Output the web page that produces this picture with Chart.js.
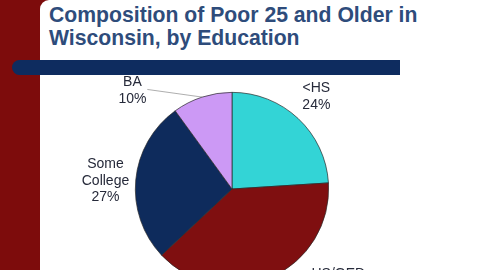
<!DOCTYPE html>
<html><head><meta charset="utf-8">
<script src="https://cdn.jsdelivr.net/npm/chart.js@4"></script>
<style>
html,body{margin:0;padding:0;width:480px;height:270px;overflow:hidden;background:#7d0c0c;}
#panel{position:absolute;left:40px;top:0;width:440px;height:270px;background:#fff;border-top-left-radius:9px;}
#bar{position:absolute;left:12px;top:60px;width:388px;height:15px;background:#0e2c5f;border-top-left-radius:8px;border-bottom-left-radius:8px;}
#title{position:absolute;left:49px;top:3px;font-family:"Liberation Sans",Arial,sans-serif;font-weight:bold;font-size:21.2px;line-height:23px;color:#2e4c7b;white-space:nowrap;}
#c{position:absolute;left:0;top:0;}
</style></head>
<body>
<div id="panel"></div>
<div id="bar"></div>
<div id="title">Composition of Poor 25 and Older in<br>Wisconsin, by Education</div>
<canvas id="c" width="480" height="290"></canvas>
<script>
const categories = ["<HS", "HS/GED", "Some College", "BA"];
const labelLines = [["<HS"], ["HS/GED"], ["Some", "College"], ["BA"]];
const shares = [24, 39, 27, 10];
const colors = ["#33d4d6", "#7f0f10", "#0e2b5c", "#cc99f5"];

// label anchor offsets in units of pie radius (layout, not data)
const labelOffsets = [[0.873, -0.954], [1.10, 0.97], [-1.309, -0.082], [-1.03, -1.02]];
const leaderEnd = { 3: [-0.876, -1.03] };

const labelPlugin = {
  id: 'pieLabels',
  afterDatasetsDraw(chart) {
    const ctx = chart.ctx;
    const meta = chart.getDatasetMeta(0);
    ctx.save();
    ctx.font = '14px "Liberation Sans", Arial, sans-serif';
    ctx.fillStyle = '#262a3a';
    ctx.textAlign = 'center';
    ctx.textBaseline = 'middle';
    meta.data.forEach((arc, i) => {
      const r = arc.outerRadius, cx = arc.x, cy = arc.y;
      if (leaderEnd[i]) {
        const mid = (arc.startAngle + arc.endAngle) / 2;
        ctx.strokeStyle = '#777';
        ctx.lineWidth = 0.6;
        ctx.beginPath();
        ctx.moveTo(cx + r * Math.cos(mid), cy + r * Math.sin(mid));
        ctx.lineTo(cx + leaderEnd[i][0] * r, cy + leaderEnd[i][1] * r);
        ctx.stroke();
      }
      const lines = labelLines[i].concat([shares[i] + '%']);
      const lh = 16.5;
      const bx = cx + labelOffsets[i][0] * r;
      const by = cy + labelOffsets[i][1] * r;
      lines.forEach((t, k) => {
        ctx.fillText(t, bx, by + (k - (lines.length - 1) / 2) * lh);
      });
    });
    ctx.restore();
  }
};

new Chart(document.getElementById('c'), {
  type: 'pie',
  data: {
    labels: categories,
    datasets: [{
      data: shares,
      backgroundColor: colors,
      borderColor: '#2a2a2a',
      borderWidth: 0.7
    }]
  },
  options: {
    responsive: false,
    animation: false,
    devicePixelRatio: 1,
    layout: { padding: { left: 135, right: 151, top: 92, bottom: 4 } },
    plugins: { legend: { display: false }, tooltip: { enabled: false } }
  },
  plugins: [labelPlugin]
});
</script>
</body></html>
